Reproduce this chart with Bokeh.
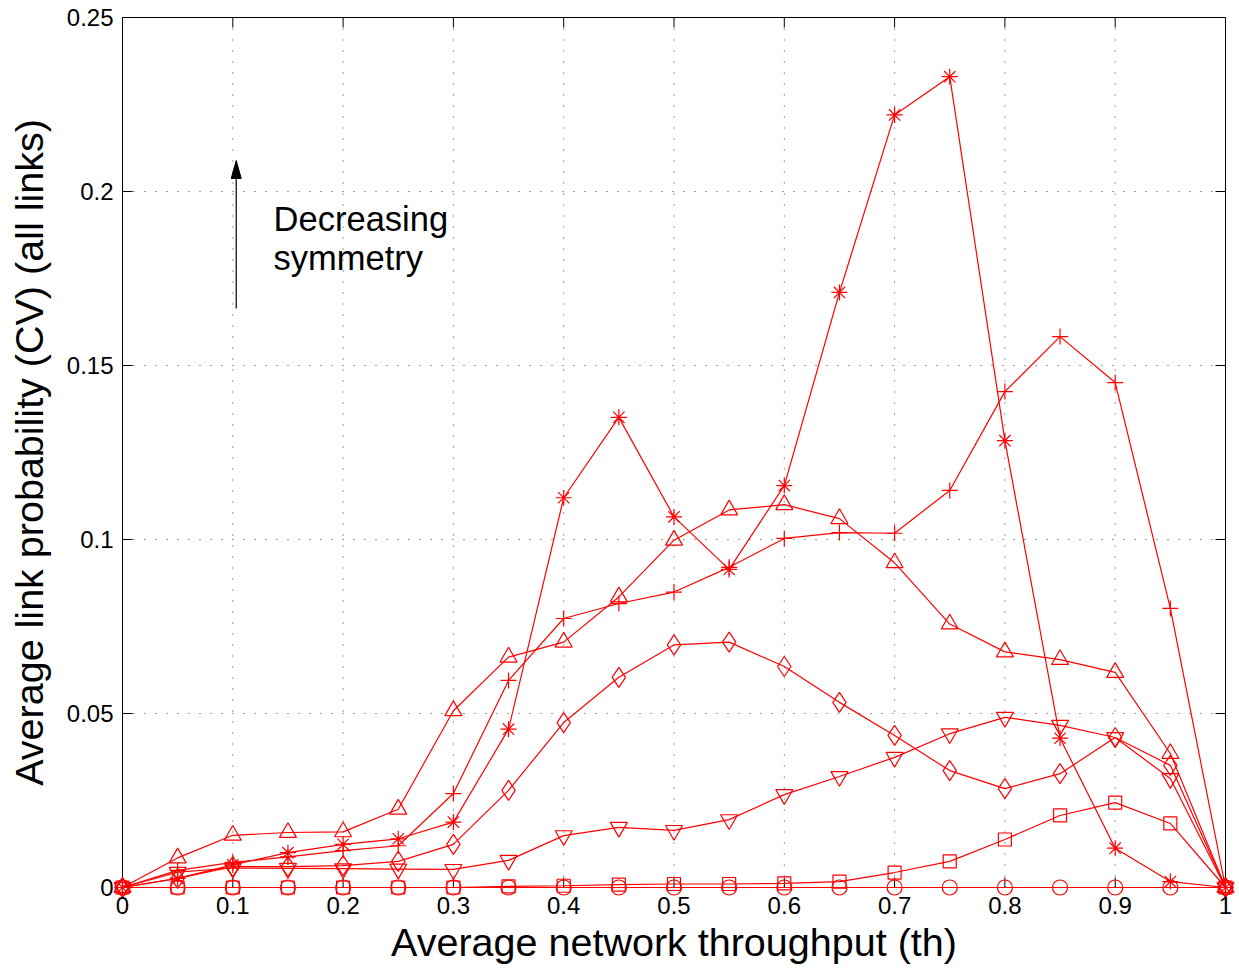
from bokeh.plotting import figure
from bokeh.models import ColumnDataSource, FixedTicker, Range1d, Label
from bokeh.embed import file_html
from bokeh.resources import INLINE

# Average network throughput (th)
throughput = [0.0, 0.05, 0.1, 0.15, 0.2, 0.25, 0.3, 0.35, 0.4, 0.45, 0.5,
              0.55, 0.6, 0.65, 0.7, 0.75, 0.8, 0.85, 0.9, 0.95, 1.0]

# Average link probability CV, one curve per traffic pattern,
# ordered from the most symmetric to the least symmetric.
cv_circle = [0.0, 0.0, 0.0, 0.0, 0.0, 0.0, 0.0, 0.0, 0.0, 0.0, 0.0,
             0.0, 0.0, 0.0, 0.0, 0.0, 0.0, 0.0, 0.0, 0.0, 0.0]
cv_square = [0.0, 0.0, 0.0, 0.0, 0.0, 0.0, 0.0, 0.0003, 0.0005, 0.0008, 0.001,
             0.001, 0.0012, 0.0017, 0.0043, 0.0075, 0.0138, 0.0207, 0.0244, 0.0184, 0.0]
cv_down_tri = [0.0, 0.0044, 0.0056, 0.0055, 0.0054, 0.0053, 0.0052, 0.0078, 0.0149, 0.0173, 0.0164,
               0.0195, 0.0267, 0.0319, 0.0374, 0.0442, 0.0489, 0.0466, 0.0431, 0.0313, 0.0]
cv_diamond = [0.0, 0.0026, 0.006, 0.006, 0.0063, 0.0075, 0.0124, 0.0279, 0.0474, 0.0604, 0.0697,
              0.0705, 0.0635, 0.0532, 0.0437, 0.0336, 0.0284, 0.0327, 0.0431, 0.0351, 0.0]
cv_up_tri = [0.0, 0.0085, 0.015, 0.0158, 0.016, 0.0225, 0.0508, 0.0662, 0.0705, 0.0835, 0.0998,
             0.1085, 0.1100, 0.1060, 0.0933, 0.0757, 0.0677, 0.0655, 0.0618, 0.0385, 0.0]
cv_plus = [0.0, 0.0049, 0.0072, 0.0088, 0.0106, 0.012, 0.027, 0.0595, 0.0773, 0.0816, 0.0849,
           0.092, 0.1003, 0.102, 0.1018, 0.1141, 0.1425, 0.1583, 0.1451, 0.0802, 0.0]
cv_star = [0.0, 0.0026, 0.0065, 0.010, 0.0124, 0.014, 0.0188, 0.0455, 0.112, 0.1351, 0.1065,
           0.0914, 0.1155, 0.171, 0.222, 0.233, 0.1284, 0.0429, 0.0113, 0.0017, 0.0]

x_ticks = [0.0, 0.1, 0.2, 0.3, 0.4, 0.5, 0.6, 0.7, 0.8, 0.9, 1.0]
x_tick_labels = ["0", "0.1", "0.2", "0.3", "0.4", "0.5", "0.6", "0.7", "0.8", "0.9", "1"]
y_ticks = [0.0, 0.05, 0.1, 0.15, 0.2, 0.25]
y_tick_labels = ["0", "0.05", "0.1", "0.15", "0.2", "0.25"]

X_MIN, X_MAX = 0.0, 1.0
Y_MIN, Y_MAX = 0.0, 0.25

# axes box geometry in pixels; the drawing frame is padded so that markers
# sitting on the box edges are not cut off
BOX_W_PX, BOX_H_PX = 1103, 870
PAD_PX = 12
TICK_PX = 10
x_per_px = (X_MAX - X_MIN) / BOX_W_PX
y_per_px = (Y_MAX - Y_MIN) / BOX_H_PX
x_pad, y_pad = PAD_PX * x_per_px, PAD_PX * y_per_px
x_tick_len, y_tick_len = TICK_PX * x_per_px, TICK_PX * y_per_px

# annotation placement (data units) and arrow head size (pixels)
arrow_x = 0.1031
arrow_y_start = 0.1664
arrow_y_end = 0.2089
HEAD_LEN_PX, HEAD_HALF_W_PX = 18, 5
note_x = 0.137
note_y_line1 = 0.1922
note_y_line2 = 0.1810

FONT = "Liberation Sans"
RED = "#ff0000"

p = figure(frame_width=BOX_W_PX + 2 * PAD_PX, frame_height=BOX_H_PX + 2 * PAD_PX,
           x_range=Range1d(X_MIN - x_pad, X_MAX + x_pad),
           y_range=Range1d(Y_MIN - y_pad, Y_MAX + y_pad),
           output_backend="svg", toolbar_location=None,
           min_border_left=122 - PAD_PX, min_border_right=14 - PAD_PX,
           min_border_top=17 - PAD_PX, min_border_bottom=83 - PAD_PX,
           background_fill_color="white", border_fill_color="white")

p.outline_line_color = None
p.grid.visible = False

# tick labels and axis titles (tick marks are drawn on the box below)
p.xaxis.ticker = FixedTicker(ticks=x_ticks)
p.yaxis.ticker = FixedTicker(ticks=y_ticks)
p.xaxis.major_label_overrides = {t: s for t, s in zip(x_ticks, x_tick_labels)}
p.yaxis.major_label_overrides = {t: s for t, s in zip(y_ticks, y_tick_labels)}
p.xaxis.axis_label = "Average network throughput (th)"
p.yaxis.axis_label = "Average link probability (CV) (all links)"
for ax in (p.xaxis, p.yaxis):
    ax.major_label_text_font = FONT
    ax.major_label_text_font_size = "24px"
    ax.major_label_text_color = "black"
    ax.axis_label_text_font = FONT
    ax.axis_label_text_font_size = "39.5px"
    ax.axis_label_text_font_style = "normal"
    ax.axis_label_text_color = "black"
    ax.major_tick_in = 0
    ax.major_tick_out = 0
    ax.major_tick_line_color = None
    ax.minor_tick_line_color = None
    ax.axis_line_color = None
p.xaxis.major_label_standoff = -3
p.yaxis.major_label_standoff = -3
p.xaxis.axis_label_standoff = 3
p.yaxis.axis_label_standoff = 13

# box around the axes
p.quad(left=[X_MIN], right=[X_MAX], bottom=[Y_MIN], top=[Y_MAX],
       fill_color=None, line_color="black", line_width=1)

# dotted grid at the inner ticks
gx = x_ticks[1:-1]
gy = y_ticks[1:-1]
p.segment(x0=gx, y0=[Y_MIN] * len(gx), x1=gx, y1=[Y_MAX] * len(gx),
          line_color="black", line_alpha=0.75, line_dash="1 10", line_width=1)
p.segment(x0=[X_MIN] * len(gy), y0=gy, x1=[X_MAX] * len(gy), y1=gy,
          line_color="black", line_alpha=0.75, line_dash="1 10", line_width=1)

# inward tick marks on all four edges
nx, ny = len(x_ticks), len(y_ticks)
tick_style = dict(line_color="black", line_width=1)
p.segment(x0=x_ticks, y0=[Y_MIN] * nx, x1=x_ticks, y1=[Y_MIN + y_tick_len] * nx, **tick_style)
p.segment(x0=x_ticks, y0=[Y_MAX] * nx, x1=x_ticks, y1=[Y_MAX - y_tick_len] * nx, **tick_style)
p.segment(x0=[X_MIN] * ny, y0=y_ticks, x1=[X_MIN + x_tick_len] * ny, y1=y_ticks, **tick_style)
p.segment(x0=[X_MAX] * ny, y0=y_ticks, x1=[X_MAX - x_tick_len] * ny, y1=y_ticks, **tick_style)

series = [
    (cv_circle, "circle", 15),
    (cv_square, "square", 13),
    (cv_down_tri, "inverted_triangle", 17),
    (cv_diamond, "diamond", 20),
    (cv_up_tri, "triangle", 17),
    (cv_plus, "cross", 16),
    (cv_star, "asterisk", 16),
]

for values, marker, size in series:
    src = ColumnDataSource(dict(x=throughput, y=values))
    p.line("x", "y", source=src, line_color=RED, line_width=1.2)
    p.scatter("x", "y", source=src, marker=marker, size=size,
              line_color=RED, fill_color=None, line_width=1.2)

# "Decreasing symmetry" annotation: shaft plus a slender filled head
head_base = arrow_y_end - HEAD_LEN_PX * y_per_px
p.segment(x0=[arrow_x], y0=[arrow_y_start], x1=[arrow_x], y1=[head_base],
          line_color="black", line_width=1.2)
p.patch(x=[arrow_x - HEAD_HALF_W_PX * x_per_px, arrow_x, arrow_x + HEAD_HALF_W_PX * x_per_px],
        y=[head_base, arrow_y_end, head_base],
        fill_color="black", line_color="black", line_width=1)
for txt, yy in (("Decreasing", note_y_line1), ("symmetry", note_y_line2)):
    p.add_layout(Label(x=note_x, y=yy, text=txt, text_font=FONT,
                       text_font_size="34.5px", text_color="black",
                       text_baseline="alphabetic", text_align="left"))

open("out.html", "w").write(file_html(p, INLINE))
